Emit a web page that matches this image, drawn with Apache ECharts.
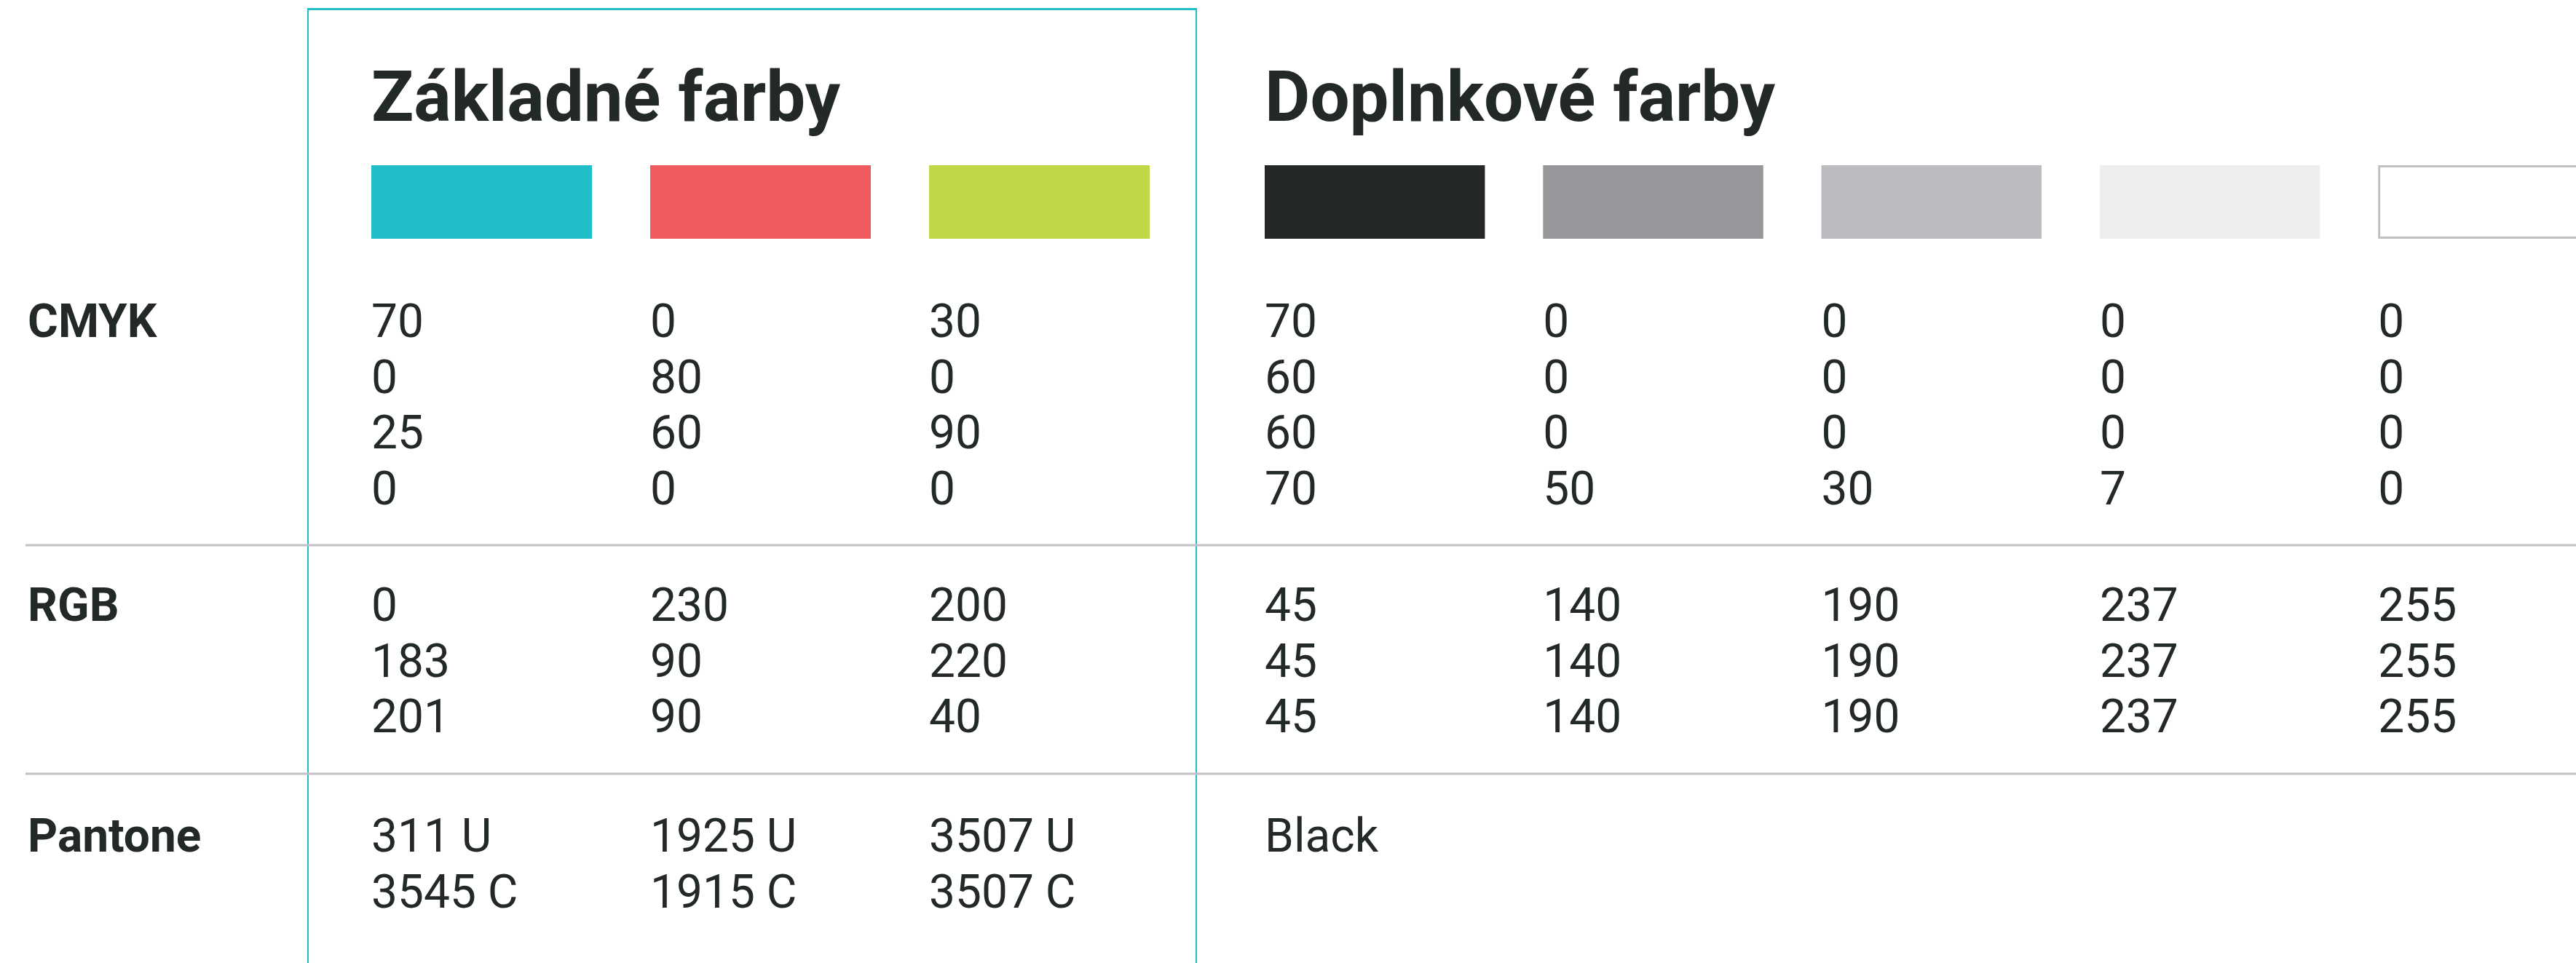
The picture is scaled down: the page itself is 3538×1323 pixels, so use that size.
<!DOCTYPE html>
<html>
<head>
<meta charset="utf-8">
<script src="https://cdn.jsdelivr.net/npm/echarts@6/dist/echarts.min.js"></script>
<style>
html,body{margin:0;padding:0;background:#ffffff;}
#chart{width:3538px;height:1323px;}
</style>
</head>
<body>
<div id="chart"></div>
<script>
// ---------- DATA ----------
const groupTitles = ['Základné farby', 'Doplnkové farby'];
const rowLabels = ['CMYK', 'RGB', 'Pantone'];

const primarySwatches = ['#20bdc8', '#ef5a5d', '#bfd747'];
const primaryCMYK = [[70, 0, 25, 0], [0, 80, 60, 0], [30, 0, 90, 0]];
const primaryRGB = [[0, 183, 201], [230, 90, 90], [200, 220, 40]];
const primaryPantone = [['311 U', '3545 C'], ['1925 U', '1915 C'], ['3507 U', '3507 C']];

const extraSwatches = ['#242928', '#96979b', '#bbbcc0', '#eeeeee', '#ffffff'];
const extraCMYK = [[70, 60, 60, 70], [0, 0, 0, 50], [0, 0, 0, 30], [0, 0, 0, 7], [0, 0, 0, 0]];
const extraRGB = [[45, 45, 45], [140, 140, 140], [190, 190, 190], [237, 237, 237], [255, 255, 255]];
const extraPantone = [['Black'], [], [], [], []];

// ---------- LAYOUT ----------
const W = 3538, H = 1323;
const TEXT = '#232828';
const FONT = 'Roboto, "Noto Sans", sans-serif';
const PITCH1 = 383, PITCH2 = 382.3;
const G1_LEFT = 510, G2_LEFT = 1737;
const SWATCH_RATIO = 303 / 383;
const SWATCH_TOP = 227, SWATCH_H = 101;
const TITLE_BASE = 166, TITLE_SIZE = 96;
const BODY_SIZE = 64, LINE_PITCH = 76.7;
const SECTION_BASE = [463, 853, 1170];
const SEPARATORS = [749, 1063];
const MID_OFF = 0.25; // baseline - middle, in em

function midY(baseline, size) { return baseline - MID_OFF * size; }

function makeRender(swatches, cmyk, rgb, pantone) {
  return function (params, api) {
    const i = api.value(0);
    const p = api.coord([i, 0]);
    const pitch = api.size([1, 0])[0];
    const x = p[0];
    const w = pitch * SWATCH_RATIO;
    const children = [];
    const isWhite = swatches[i].toLowerCase() === '#ffffff';
    children.push({
      type: 'rect',
      shape: isWhite
        ? { x: x + 1.5, y: SWATCH_TOP + 1.5, width: w - 3, height: SWATCH_H - 3 }
        : { x: x, y: SWATCH_TOP, width: w, height: SWATCH_H },
      style: { fill: swatches[i], stroke: isWhite ? '#c0c0c4' : null, lineWidth: isWhite ? 3 : 0 }
    });
    const sections = [cmyk[i], rgb[i], pantone[i]];
    sections.forEach(function (vals, s) {
      vals.forEach(function (v, k) {
        children.push({
          type: 'text',
          style: {
            text: String(v),
            x: x,
            y: midY(SECTION_BASE[s] + k * LINE_PITCH, BODY_SIZE),
            fill: TEXT,
            fontFamily: FONT,
            fontSize: BODY_SIZE,
            fontWeight: 400,
            align: 'left',
            verticalAlign: 'middle'
          }
        });
      });
    });
    return { type: 'group', children: children };
  };
}

const graphics = [];
// teal frame around primary colours
graphics.push({
  type: 'rect', silent: true,
  shape: { x: 423, y: 12, width: 1220, height: H + 20 },
  style: { fill: 'none', stroke: '#20bdc8', lineWidth: 2 }
});
graphics.push({
  type: 'line', silent: true,
  shape: { x1: 422, y1: 12.5, x2: 1644, y2: 12.5 },
  style: { stroke: '#20bdc8', lineWidth: 3 }
});
// separators
SEPARATORS.forEach(function (y) {
  graphics.push({
    type: 'line', silent: true,
    shape: { x1: 35, y1: y, x2: W, y2: y },
    style: { stroke: '#c0c0c5', lineWidth: 3 }
  });
});
// titles
[G1_LEFT, G2_LEFT].forEach(function (lx, g) {
  graphics.push({
    type: 'text', silent: true,
    style: {
      text: groupTitles[g], x: lx, y: midY(TITLE_BASE, TITLE_SIZE),
      fill: TEXT, fontFamily: FONT, fontSize: TITLE_SIZE, fontWeight: 700,
      align: 'left', verticalAlign: 'middle'
    }
  });
});
// row labels
rowLabels.forEach(function (lab, s) {
  graphics.push({
    type: 'text', silent: true,
    style: {
      text: lab, x: 38, y: midY(SECTION_BASE[s], BODY_SIZE),
      fill: TEXT, fontFamily: FONT, fontSize: BODY_SIZE, fontWeight: 700,
      align: 'left', verticalAlign: 'middle'
    }
  });
});

const chart = echarts.init(document.getElementById('chart'), null, { renderer: 'canvas', width: W, height: H });
chart.setOption({
  backgroundColor: '#ffffff',
  animation: false,
  grid: [
    { left: G1_LEFT, top: 0, width: PITCH1 * primarySwatches.length, height: H },
    { left: G2_LEFT, top: 0, right: 0, height: H }
  ],
  xAxis: [
    { type: 'value', gridIndex: 0, min: 0, max: primarySwatches.length, show: false },
    { type: 'value', gridIndex: 1, min: 0, max: (W - G2_LEFT) / PITCH2, show: false }
  ],
  yAxis: [
    { type: 'value', gridIndex: 0, min: 0, max: 1, show: false },
    { type: 'value', gridIndex: 1, min: 0, max: 1, show: false }
  ],
  series: [
    {
      type: 'custom', xAxisIndex: 0, yAxisIndex: 0, clip: false,
      renderItem: makeRender(primarySwatches, primaryCMYK, primaryRGB, primaryPantone),
      data: primarySwatches.map(function (_, i) { return [i, 0]; })
    },
    {
      type: 'custom', xAxisIndex: 1, yAxisIndex: 1, clip: false,
      renderItem: makeRender(extraSwatches, extraCMYK, extraRGB, extraPantone),
      data: extraSwatches.map(function (_, i) { return [i, 0]; })
    }
  ],
  graphic: graphics
});
</script>
</body>
</html>
